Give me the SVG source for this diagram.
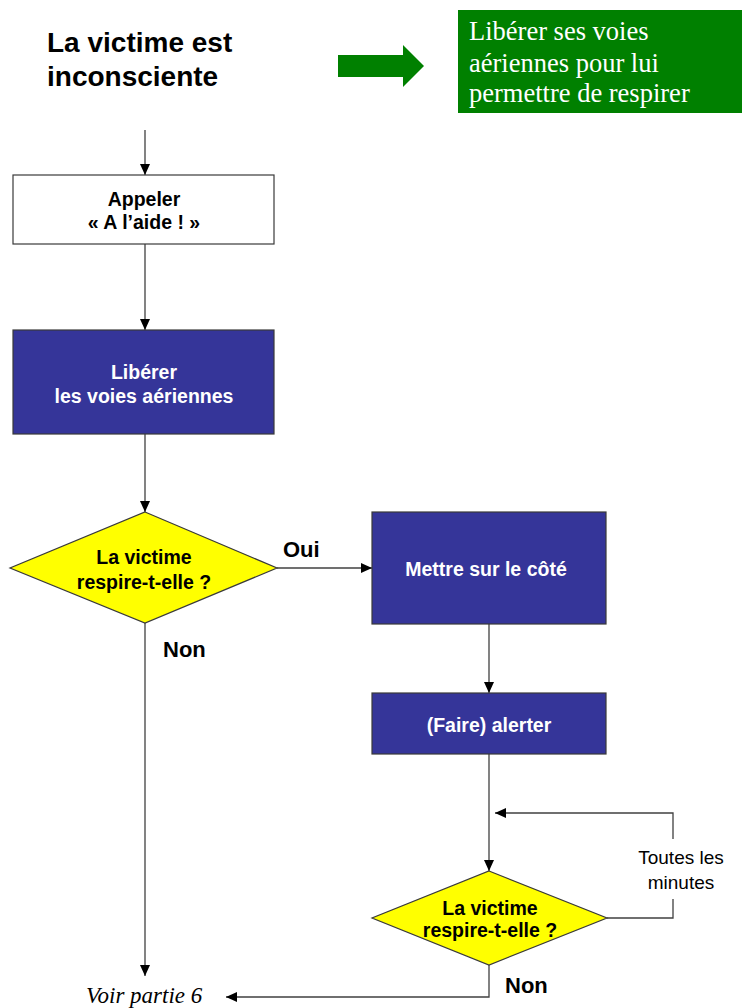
<svg xmlns="http://www.w3.org/2000/svg" width="742" height="1008" viewBox="0 0 742 1008">
<style>
.bx{stroke:#3a3a3a;stroke-width:1.2}
.blue{fill:#353599}
.yel{fill:#ffff00}
.t{font-family:"Liberation Sans",Arial,sans-serif;font-weight:bold;font-size:19.5px;text-anchor:middle}
.w{fill:#ffffff}
.k{fill:#000000}
.lbl{font-family:"Liberation Sans",Arial,sans-serif;font-weight:bold;font-size:22px;fill:#000}
.c{fill:none;stroke:#404040;stroke-width:1.3}
</style>
<defs>
<marker id="ah" markerUnits="userSpaceOnUse" markerWidth="11" markerHeight="10" refX="11" refY="5" orient="auto">
<path d="M0,0 L11,5 L0,10 z" fill="#000"/>
</marker>
</defs>
<rect width="742" height="1008" fill="#fff"/>

<g id="title">
<text x="47" y="52" style="font-family:'Liberation Sans',Arial,sans-serif;font-weight:bold;font-size:28px" fill="#000">La victime est</text>
<text x="47" y="86" style="font-family:'Liberation Sans',Arial,sans-serif;font-weight:bold;font-size:28px" fill="#000">inconsciente</text>
</g>
<g id="green-arrow">
<polygon points="338,55 403,55 403,45 424,66 403,87 403,77 338,77" fill="#008000"/>
</g>
<g id="green-box">
<rect x="458" y="10" width="284" height="103" fill="#008000"/>
<g style="font-family:'Liberation Serif','Times New Roman',serif;font-size:26.5px" fill="#fff">
<text x="469" y="40">Libérer ses voies</text>
<text x="469" y="72">aériennes pour lui</text>
<text x="469" y="102">permettre de respirer</text>
</g>
</g>

<g id="connectors">
<line class="c" x1="145" y1="130" x2="145" y2="175" marker-end="url(#ah)"/>
<line class="c" x1="145" y1="244" x2="145" y2="330" marker-end="url(#ah)"/>
<line class="c" x1="145" y1="434" x2="145" y2="512" marker-end="url(#ah)"/>
<line class="c" x1="277" y1="568" x2="372" y2="568" marker-end="url(#ah)"/>
<line class="c" x1="145" y1="623" x2="145" y2="976" marker-end="url(#ah)"/>
<line class="c" x1="489" y1="624" x2="489" y2="693" marker-end="url(#ah)"/>
<line class="c" x1="489" y1="754" x2="489" y2="871" marker-end="url(#ah)"/>
<polyline class="c" points="607,918 673,918 673,899"/>
<polyline class="c" points="673,839 673,813 495,813" marker-end="url(#ah)"/>
<polyline class="c" points="489,965 489,997 226,997" marker-end="url(#ah)"/>
</g>

<g id="appeler">
<rect class="bx" x="13" y="175" width="261" height="69" fill="#fff"/>
<text class="t k" x="144" y="206">Appeler</text>
<text class="t k" x="144" y="229">« A l’aide ! »</text>
</g>
<g id="liberer">
<rect class="bx blue" x="13" y="330" width="261" height="104"/>
<text class="t w" x="144" y="379">Libérer</text>
<text class="t w" x="144" y="403">les voies aériennes</text>
</g>
<g id="decision1">
<polygon class="bx yel" points="145,512 277,568 145,623 10,568"/>
<text class="t k" x="144" y="564">La victime</text>
<text class="t k" x="144" y="589">respire-t-elle ?</text>
</g>
<g id="label-oui"><text class="lbl" x="283" y="557">Oui</text></g>
<g id="label-non1"><text class="lbl" x="163" y="657">Non</text></g>
<g id="mettre">
<rect class="bx blue" x="372" y="512" width="234" height="112"/>
<text class="t w" x="486" y="576">Mettre sur le côté</text>
</g>
<g id="alerter">
<rect class="bx blue" x="372" y="693" width="234" height="61"/>
<text class="t w" x="489" y="732">(Faire) alerter</text>
</g>
<g id="decision2">
<polygon class="bx yel" points="489,871 607,918 489,965 372,918"/>
<text class="t k" x="490" y="915">La victime</text>
<text class="t k" x="490" y="937">respire-t-elle ?</text>
</g>
<g id="label-toutes">
<text x="681" y="864" style="font-family:'Liberation Sans',Arial,sans-serif;font-size:19px;text-anchor:middle" fill="#000">Toutes les</text>
<text x="681" y="889" style="font-family:'Liberation Sans',Arial,sans-serif;font-size:19px;text-anchor:middle" fill="#000">minutes</text>
</g>
<g id="label-non2"><text class="lbl" x="505" y="993">Non</text></g>
<g id="voir">
<text x="86" y="1003" style="font-family:'Liberation Serif','Times New Roman',serif;font-style:italic;font-size:23px" fill="#000">Voir partie 6</text>
</g>
</svg>
